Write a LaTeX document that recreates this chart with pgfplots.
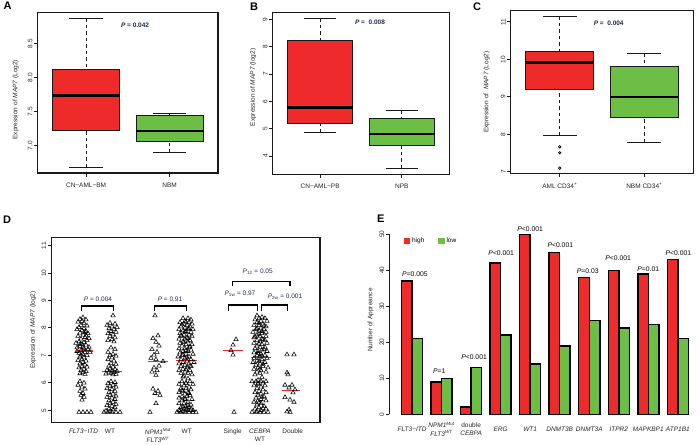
\documentclass[border=0pt]{standalone}
\usepackage{fontspec}
\setmainfont{Liberation Sans}
\usepackage{pgfplots}
\pgfplotsset{compat=1.18}
\usepgfplotslibrary{statistics}
\definecolor{bred}{HTML}{EE2A2B}
\definecolor{bgreen}{HTML}{6CBE45}
\definecolor{ptext}{HTML}{1F2A44}
\newcommand{\fs}{\fontsize{6.5}{7.5}\selectfont}
\pgfplotsset{
  boxplot/draw/lower whisker/.code={%
    \draw[black!90, line width=0.8pt, dash pattern=on 3.5pt off 3pt] (boxplot cs:\pgfplotsboxplotvalue{lower whisker}) -- (boxplot cs:\pgfplotsboxplotvalue{lower quartile});
    \draw[black!90, line width=0.9pt] (boxplot whisker cs:\pgfplotsboxplotvalue{lower whisker},0) -- (boxplot whisker cs:\pgfplotsboxplotvalue{lower whisker},1);
  },
  boxplot/draw/upper whisker/.code={%
    \draw[black!90, line width=0.8pt, dash pattern=on 3.5pt off 3pt] (boxplot cs:\pgfplotsboxplotvalue{upper whisker}) -- (boxplot cs:\pgfplotsboxplotvalue{upper quartile});
    \draw[black!90, line width=0.9pt] (boxplot whisker cs:\pgfplotsboxplotvalue{upper whisker},0) -- (boxplot whisker cs:\pgfplotsboxplotvalue{upper whisker},1);
  },
  rbase/.style={
    scale only axis, anchor=north west, clip=false,
    axis line style={draw=black!90, line width=1.1pt},
    tick align=outside, tick pos=left, major tick length=3.5pt,
    tick style={draw=black!90, line width=0.9pt},
    tick label style={font=\fs, text=black!85},
    label style={font=\fs, text=black!85},
    yticklabel style={rotate=90, anchor=south, inner sep=1.5pt},
    xticklabel style={yshift=-2.5pt},
    /pgf/number format/assume math mode=true,
  },
  rbox/.style={
    boxplot/draw direction=y,
    boxplot/box extend=0.8, boxplot/whisker extend=0.4,
    boxplot/every median/.style={line width=2.4pt, black},
  },
  redbox/.style={boxplot/every box/.style={fill=bred, draw=black!90, line width=0.9pt}},
  greenbox/.style={boxplot/every box/.style={fill=bgreen, draw=black!90, line width=0.9pt}},
  tri/.style={only marks, mark=triangle, mark size=2.5pt, mark options={black, line width=0.55pt, fill=none}},
}
\begin{document}
\begin{tikzpicture}
\path[use as bounding box] (0,0) rectangle (700pt,-444pt);
% ---------------- A
\begin{axis}[rbase, rbox, at={(37.7pt,-12.3pt)}, width=180.3pt, height=160.7pt,
  xmin=0.42, xmax=2.58, ymin=6.595, ymax=8.966,
  xtick={1,2}, xticklabels={CN−AML−BM, NBM},
  ytick={7,7.5,8,8.5}, yticklabels={7.0,7.5,8.0,8.5},
  ylabel={Expression of \textit{MAP7} (Log2)},
  ylabel style={at={(axis description cs:-0.122,0.456)}, anchor=center}]
\addplot[redbox, boxplot prepared={draw position=1, lower whisker=6.68, lower quartile=7.225, median=7.74, upper quartile=8.122, upper whisker=8.878}] coordinates {};
\addplot[greenbox, boxplot prepared={draw position=2, lower whisker=6.897, lower quartile=7.06, median=7.216, upper quartile=7.437, upper whisker=7.475}] coordinates {};
\node[font=\fs\bfseries, text=ptext] at (axis cs:1.586,8.78) {\textit{P} = 0.042};
\end{axis}
\node[anchor=north west, font=\fontsize{11}{11}\selectfont\bfseries, inner sep=0pt] at (3.5pt,-2pt) {A};
% ---------------- B
\begin{axis}[rbase, rbox, at={(272.7pt,-12.3pt)}, width=176.6pt, height=162pt,
  xmin=0.42, xmax=2.58, ymin=3.33, ymax=9.26,
  xtick={1,2}, xticklabels={CN−AML−PB, NPB},
  ytick={4,5,6,7,8,9},
  ylabel={Expression of \textit{MAP7} (log2)},
  ylabel style={at={(axis description cs:-0.11,0.536)}, anchor=center}]
\addplot[redbox, boxplot prepared={draw position=1, lower whisker=4.876, lower quartile=5.20, median=5.78, upper quartile=8.245, upper whisker=9.05}] coordinates {};
\addplot[greenbox, boxplot prepared={draw position=2, lower whisker=3.55, lower quartile=4.39, median=4.81, upper quartile=5.375, upper whisker=5.68}] coordinates {};
\node[font=\fs\bfseries, text=ptext] at (axis cs:1.61,8.89) {\textit{P} = \ 0.008};
\end{axis}
\node[anchor=north west, font=\fontsize{11}{11}\selectfont\bfseries, inner sep=0pt] at (250pt,-2.5pt) {B};
% ---------------- C
\begin{axis}[rbase, rbox, at={(510.7pt,-10.7pt)}, width=182.6pt, height=163pt,
  xmin=0.42, xmax=2.58, ymin=6.95, ymax=11.30,
  xtick={1,2}, xticklabels={AML CD34\textsuperscript{+}, NBM CD34\textsuperscript{+}},
  ytick={7,8,9,10,11},
  ylabel={Expression of \ \textit{MAP7} (Log2)},
  ylabel style={at={(axis description cs:-0.131,0.5)}, anchor=center}]
\addplot[redbox, boxplot prepared={draw position=1, lower whisker=7.965, lower quartile=9.207, median=9.92, upper quartile=10.21, upper whisker=11.157}] coordinates {};
\addplot[greenbox, boxplot prepared={draw position=2, lower whisker=7.79, lower quartile=8.46, median=9.0, upper quartile=9.82, upper whisker=10.165}] coordinates {};
\addplot[only marks, mark=o, mark size=1.2pt, mark options={black, line width=0.7pt}] coordinates {(1,7.665)(1,7.51)(1,7.1)};
\node[font=\fs\bfseries, text=ptext] at (axis cs:1.579,10.97) {\textit{P} = \ 0.004};
\end{axis}
\node[anchor=north west, font=\fontsize{11}{11}\selectfont\bfseries, inner sep=0pt] at (473pt,-3pt) {C};
% ---------------- D
\begin{axis}[rbase, at={(51.3pt,-237.7pt)}, width=268.7pt, height=184.6pt,
  xmin=51.3, xmax=320, ymin=4.56, ymax=11.29,
  xtick={83.5,110,158,186.7,232.7,260,292.7},
  xticklabels={\textit{FLT3−ITD}, WT, {\textit{NPM1}\textsuperscript{\textit{Mut}}\\\textit{FLT3}\textsuperscript{\textit{WT}}}, WT, Single, {\textit{CEBPA}\\WT}, Double},
  xticklabel style={align=center, yshift=3pt, font=\fontsize{6.5}{8.4}\selectfont},
  major x tick style={draw=none},
  ytick={5,6,7,8,9,10,11},
  ylabel={Expression of \textit{MAP7} (log2)},
  ylabel style={at={(axis description cs:-0.067,0.5)}, anchor=center}]
\addplot[tri] coordinates {(83,8.38)(80,8.32)(86,8.30)(78,8.22)(84,8.18)(81,8.10)(87,8.08)(79,8.02)(84,7.98)(82,7.92)(86,7.88)(80,7.82)(88,7.80)(83,7.75)(78,7.70)(85,7.66)(81,7.60)(87,7.55)(79,7.50)(84,7.47)(82,7.42)(86,7.38)(80,7.33)(77,7.28)(84,7.25)(88,7.22)(81,7.18)(85,7.12)(79,7.08)(83,7.05)(87,7.00)(80,6.95)(84,6.92)(82,6.86)(78,6.82)(86,6.80)(83,6.75)(80,6.70)(85,6.66)(82,6.60)(87,6.58)(79,6.55)(84,6.50)(81,6.45)(86,6.42)(83,6.38)(80,6.34)(85,6.32)(77,7.95)(89,7.62)(76,7.45)(89,7.30)(77,7.15)(90,7.12)(86,7.72)(80,7.40)(82,8.25)(85,7.85)(83,7.30)(81,7.02)
(80,6.05)(84,6.00)(78,5.92)(82,5.85)(85,5.78)(80,5.70)(83,5.62)(81,5.55)(84,5.48)(82,5.38)
(79,4.93)(83,4.93)(87,4.93)(91,4.93)};
\addplot[tri] coordinates {(113,8.45)(110,8.18)(115,8.15)(107,8.10)(112,8.05)(117,8.02)(109,7.98)(114,7.95)(111,7.88)(116,7.85)(108,7.80)(113,7.76)(110,7.70)(115,7.65)(112,7.58)(108,7.55)(114,7.50)
(111,7.28)(115,7.22)(108,7.12)(113,7.05)(110,7.00)(116,6.98)(112,6.92)(108,6.85)(114,6.80)(111,6.72)(116,6.68)(109,6.62)
(113,6.58)(110,6.52)(115,6.50)(107,6.46)(112,6.44)(117,6.42)(109,6.40)(114,6.38)(111,6.35)(106,6.33)(116,6.32)(113,6.30)
(111,6.05)(115,6.02)(108,5.98)(113,5.92)(110,5.88)(116,5.85)(107,5.80)(112,5.76)(115,5.70)(109,5.66)(113,5.60)(110,5.55)(116,5.52)(107,5.48)(112,5.45)(115,5.40)(109,5.35)(113,5.30)(110,5.25)(116,5.22)(107,5.18)(112,5.15)(115,5.10)(109,5.06)(113,5.02)(106,4.98)(110,4.95)(104,4.93)(108,4.93)(112,4.93)(116,4.93)(120,4.93)};
\addplot[tri] coordinates {(155,8.45)(158,7.72)(153,7.62)(156,7.48)(159,7.35)(152,7.22)(157,7.12)(154,7.02)(151,6.90)(156,6.85)(163,6.78)(159,6.62)(154,6.55)(157,6.45)(152,6.40)(156,6.28)(153,5.78)(158,5.70)(155,5.62)(160,5.55)(156,5.25)(150,4.93)};
\addplot[tri] coordinates {(183,8.35)(188,8.35)(191,8.30)(185,8.25)(180,8.20)(189,8.20)(184,8.15)(192,8.15)(187,8.10)(181,8.05)(190,8.05)(185,8.00)(179,7.95)(188,7.95)(193,7.95)(183,7.90)(186,7.85)(191,7.85)(180,7.80)(184,7.75)(189,7.75)(182,7.70)(192,7.70)(187,7.65)(179,7.60)(185,7.60)(190,7.55)(183,7.50)(188,7.50)(180,7.45)(186,7.40)(192,7.40)(182,7.35)(189,7.30)(179,7.25)(185,7.25)(191,7.20)(183,7.15)(188,7.15)(180,7.10)(186,7.05)(193,7.05)(182,7.00)(189,6.95)(178,6.95)(185,6.90)(181,6.85)(191,6.85)(187,6.80)
(183,6.75)(194,6.75)(179,6.70)(189,6.70)(185,6.65)(181,6.60)(191,6.60)(187,6.55)(183,6.50)(179,6.45)(190,6.45)(185,6.40)(181,6.35)(188,6.35)(192,6.30)(184,6.25)(188,6.15)(182,6.05)(190,6.05)(186,6.00)(179,5.95)(193,5.95)(184,5.90)(189,5.85)(181,5.80)(186,5.80)(191,5.75)(183,5.70)(179,5.65)(188,5.65)(185,5.60)(190,5.55)(182,5.50)(187,5.50)(179,5.45)(185,5.40)(192,5.40)(182,5.35)(188,5.30)(179,5.25)(184,5.25)(191,5.20)(186,5.15)(181,5.10)(189,5.10)(184,5.05)(179,5.00)(188,5.00)(193,5.00)(183,4.95)(177,4.93)(181,4.93)(185,4.93)(189,4.93)(193,4.93)(196,4.93)
(186,8.22)(182,8.12)(189,7.98)(185,7.88)(181,7.72)(188,7.62)(184,7.48)(190,7.32)(186,7.18)(183,7.02)(187,6.92)(190,6.62)(186,6.48)(183,6.22)(186,5.98)(182,5.72)(189,5.62)(185,5.42)(188,5.18)(183,5.12)(186,5.02)(191,5.06)(180,4.98)};
\addplot[tri] coordinates {(236,7.58)(233,7.38)(231,7.18)(233,7.02)(234,4.93)};
\addplot[tri] coordinates {(257,8.45)(262,8.40)(259,8.35)(265,8.35)(255,8.30)(261,8.25)(267,8.25)(257,8.20)(263,8.15)(254,8.10)(259,8.10)(266,8.05)(261,8.00)(256,7.95)(264,7.95)(259,7.90)(253,7.85)(266,7.85)(262,7.80)(257,7.75)(260,7.70)(266,7.70)(254,7.65)(262,7.60)(257,7.55)(265,7.55)(260,7.50)(254,7.45)(267,7.45)(262,7.40)(257,7.35)(260,7.30)(265,7.30)(255,7.25)(262,7.20)(258,7.15)(267,7.15)(254,7.10)(261,7.05)(257,7.00)(265,7.00)(260,6.95)(254,6.90)(267,6.90)(262,6.85)(257,6.80)(265,6.75)(253,6.75)(260,6.70)(256,6.65)(263,6.60)(258,6.55)(268,6.55)(254,6.50)(261,6.45)(257,6.40)(266,6.40)(260,6.35)(255,6.30)(262,6.20)(258,6.10)
(252,6.05)(256,6.05)(261,6.05)(266,6.05)(263,6.00)(258,5.95)(254,5.90)(265,5.90)(261,5.85)(257,5.80)(263,5.75)(259,5.70)(255,5.65)(266,5.65)(261,5.60)(258,5.55)(264,5.50)(256,5.45)(261,5.40)(258,5.35)(266,5.35)(254,5.30)(261,5.25)(257,5.20)(264,5.15)(259,5.10)(255,5.05)(266,5.05)(261,5.00)(257,4.95)(252,4.93)(256,4.93)(260,4.93)(264,4.93)(268,4.93)
(259,8.18)(264,8.08)(257,7.98)(262,7.88)(259,7.78)(255,7.68)(263,7.58)(259,7.42)(264,7.22)(258,7.08)(262,6.98)(259,6.78)(263,6.68)(260,6.52)(258,5.98)(262,5.48)(259,5.28)(263,5.08)};
\addplot[tri] coordinates {(287,7.03)(294,7.03)(287,6.37)(288,6.30)(285,5.92)(292,5.92)(289,5.82)(295,5.75)(293,5.64)(285,5.47)(290,5.38)(294,5.30)(289,5.02)(287,4.95)(290,4.93)};
\addplot[bred, line width=1.2pt] coordinates {(76,7.16)(93.3,7.16)};
\addplot[bred, line width=1.2pt] coordinates {(101.7,6.42)(121.7,6.42)};
\addplot[bred, line width=1.2pt] coordinates {(147.7,6.79)(168.3,6.79)};
\addplot[bred, line width=1.2pt] coordinates {(176,6.80)(196.7,6.80)};
\addplot[bred, line width=1.2pt] coordinates {(222.7,7.17)(242.7,7.17)};
\addplot[bred, line width=1.2pt] coordinates {(250.7,6.91)(270.7,6.91)};
\addplot[bred, line width=1.2pt] coordinates {(281.7,5.72)(300,5.72)};
\addplot[black, line width=1.4pt] coordinates {(81.7,8.62)(81.7,8.80)(113.7,8.80)(113.7,8.62)};
\addplot[black, line width=1.4pt] coordinates {(154.7,8.62)(154.7,8.80)(186.3,8.80)(186.3,8.62)};
\addplot[black, line width=1.4pt] coordinates {(228.7,8.63)(228.7,8.83)(257.3,8.83)(257.3,8.63)};
\addplot[black, line width=1.4pt] coordinates {(261.7,8.63)(261.7,8.83)(287.3,8.83)(287.3,8.63)};
\addplot[black, line width=1.4pt] coordinates {(232.3,9.53)(232.3,9.70)(290,9.70)(290,9.53)};
\node[font=\fs, text=ptext] at (axis cs:98,9.05) {\textit{P} = 0.004};
\node[font=\fs, text=ptext] at (axis cs:170,9.05) {\textit{P} = 0.91};
\node[font=\fs, text=ptext] at (axis cs:257.7,10.04) {\textit{P}\textsubscript{12} = 0.05};
\node[font=\fs, text=ptext] at (axis cs:240,9.24) {\textit{P}\textsubscript{1w} = 0.97};
\node[font=\fs, text=ptext] at (axis cs:285,9.14) {\textit{P}\textsubscript{2w} = 0.001};
\end{axis}
\node[anchor=north west, font=\fontsize{11}{11}\selectfont\bfseries, inner sep=0pt] at (3pt,-215.5pt) {D};
% ---------------- E
\begin{axis}[rbase, at={(389.3pt,-234.3pt)}, width=310.7pt, height=180pt,
  xmin=0.23, xmax=10.75, ymin=0, ymax=50,
  axis y line*=left, axis x line*=bottom, x axis line style={draw=none},
  major x tick style={draw=none},
  xtick={1,...,10},
  xticklabels={\textit{FLT3−ITD}, {\textit{NPM1}\textsuperscript{\textit{Mut}}\\\textit{FLT3}\textsuperscript{\textit{WT}}}, {double\\\textit{CEBPA}}, \textit{ERG}, \textit{WT1}, \textit{DNMT3B}, \textit{DNMT3A}, \textit{ITPR2}, \textit{MAPKBP1}, \textit{ATP1B1}},
  xticklabel style={align=center, anchor=center, yshift=-9pt, font=\fontsize{6.5}{8.7}\selectfont},
  ytick={0,10,20,30,40,50},
  ylabel={Number of Appreance},
  ylabel style={at={(axis description cs:-0.06,0.524)}, anchor=center},
  legend style={at={(axis cs:0.62,48.1)}, anchor=west, draw=none, fill=none, legend columns=2, font=\fs, /tikz/every even column/.append style={column sep=12pt}}]
\addplot[ybar, bar width=0.356, bar shift=-0.178, fill=bred, draw=black, line width=1.5pt,
  legend image code/.code={\fill[bred] (0pt,-2.3pt) rectangle (4.6pt,2.3pt);}]
  coordinates {(1,37)(2,9)(3,2)(4,42)(5,50)(6,45)(7,38)(8,40)(9,39)(10,43)};
\addplot[ybar, bar width=0.356, bar shift=0.178, fill=bgreen, draw=black, line width=1.5pt,
  legend image code/.code={\fill[bgreen] (0pt,-2.3pt) rectangle (4.6pt,2.3pt);}]
  coordinates {(1,21)(2,10)(3,13)(4,22)(5,14)(6,19)(7,26)(8,24)(9,25)(10,21)};
\legend{high, low}
\node[font=\fontsize{6.8}{8}\selectfont] at (axis cs:1.1,39.0) {\textit{P}=0.005};
\node[font=\fontsize{6.8}{8}\selectfont] at (axis cs:1.92,12.0) {\textit{P}=1};
\node[font=\fontsize{6.8}{8}\selectfont] at (axis cs:3.1,16.0) {\textit{P}<0.001};
\node[font=\fontsize{6.8}{8}\selectfont] at (axis cs:4.02,44.9) {\textit{P}<0.001};
\node[font=\fontsize{6.8}{8}\selectfont] at (axis cs:5.0,51.4) {\textit{P}<0.001};
\node[font=\fontsize{6.8}{8}\selectfont] at (axis cs:6.02,47.0) {\textit{P}<0.001};
\node[font=\fontsize{6.8}{8}\selectfont] at (axis cs:6.95,39.9) {\textit{P}=0.03};
\node[font=\fontsize{6.8}{8}\selectfont] at (axis cs:7.98,43.3) {\textit{P}<0.001};
\node[font=\fontsize{6.8}{8}\selectfont] at (axis cs:9.0,40.4) {\textit{P}=0.01};
\node[font=\fontsize{6.8}{8}\selectfont] at (axis cs:10.02,44.9) {\textit{P}<0.001};
\end{axis}
\node[anchor=north west, font=\fontsize{11}{11}\selectfont\bfseries, inner sep=0pt] at (377pt,-215pt) {E};
\end{tikzpicture}
\end{document}
